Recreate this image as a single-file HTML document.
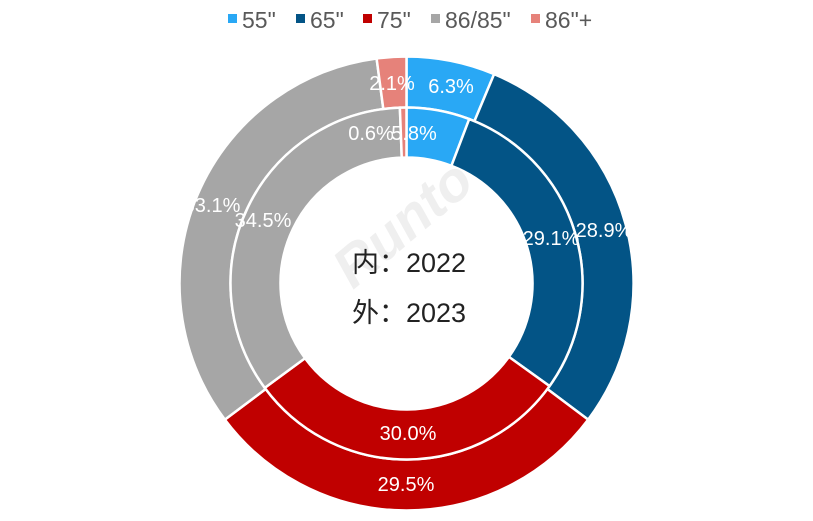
<!DOCTYPE html><html><head><meta charset="utf-8"><style>
body{margin:0;width:813px;height:516px;background:#fff;overflow:hidden;font-family:"Liberation Sans","Noto Sans CJK SC",sans-serif}
</style></head><body>
<svg id="s" width="813" height="516" xmlns="http://www.w3.org/2000/svg">
<g id="arcs"></g>
<g font-size="23" fill="#595959">
<rect x="228" y="14" width="9" height="9" fill="#29a8f5"/><text x="242" y="28">55"</text>
<rect x="296" y="14" width="9" height="9" fill="#035486"/><text x="310" y="28">65"</text>
<rect x="363" y="14" width="9" height="9" fill="#c00000"/><text x="377" y="28">75"</text>
<rect x="431" y="14" width="9" height="9" fill="#a6a6a6"/><text x="445" y="28">86/85"</text>
<rect x="531" y="14" width="9" height="9" fill="#e6827a"/><text x="545" y="28">86"+</text>
</g>
<text x="430" y="240" font-size="56" font-style="italic" font-weight="bold" fill="#efefef" text-anchor="middle" transform="rotate(-40 420 260)">Runto</text>
<g font-size="20" fill="#fff" text-anchor="middle">
<text x="451" y="93">6.3%</text><text x="392" y="90">2.1%</text>
<text x="414" y="140">5.8%</text><text x="371" y="140">0.6%</text>
<text x="551" y="245">29.1%</text><text x="604" y="237">28.9%</text>
<text x="408" y="440">30.0%</text><text x="406" y="491">29.5%</text>
<text x="212" y="212">33.1%</text><text x="263" y="227">34.5%</text>
</g>
<g font-size="27" fill="#222" text-anchor="middle">
<text x="409" y="272">内：2022</text><text x="409" y="322">外：2023</text>
</g>
</svg>
<script>
var cx=406.5,cy=283.5,cols=["#29a8f5","#035486","#c00000","#a6a6a6","#e6827a"];
function ring(v,r0,r1){var a=0,o="",t=v.reduce((x,y)=>x+y,0);v.forEach(function(p,i){var b=a+p/t*2*Math.PI;
function P(r,an){return (cx+r*Math.sin(an)).toFixed(2)+","+(cy-r*Math.cos(an)).toFixed(2)}
var l=(b-a)>Math.PI?1:0;
o+='<path d="M'+P(r1,a)+' A'+r1+','+r1+' 0 '+l+' 1 '+P(r1,b)+' L'+P(r0,b)+' A'+r0+','+r0+' 0 '+l+' 0 '+P(r0,a)+'Z" fill="'+cols[i]+'" stroke="#fff" stroke-width="2.5"/>';a=b;});return o;}
document.getElementById("arcs").innerHTML=ring([6.3,28.9,29.5,33.1,2.1],176,227)+ring([5.8,29.1,30.0,34.5,0.6],126,176);
</script>
</body></html>
